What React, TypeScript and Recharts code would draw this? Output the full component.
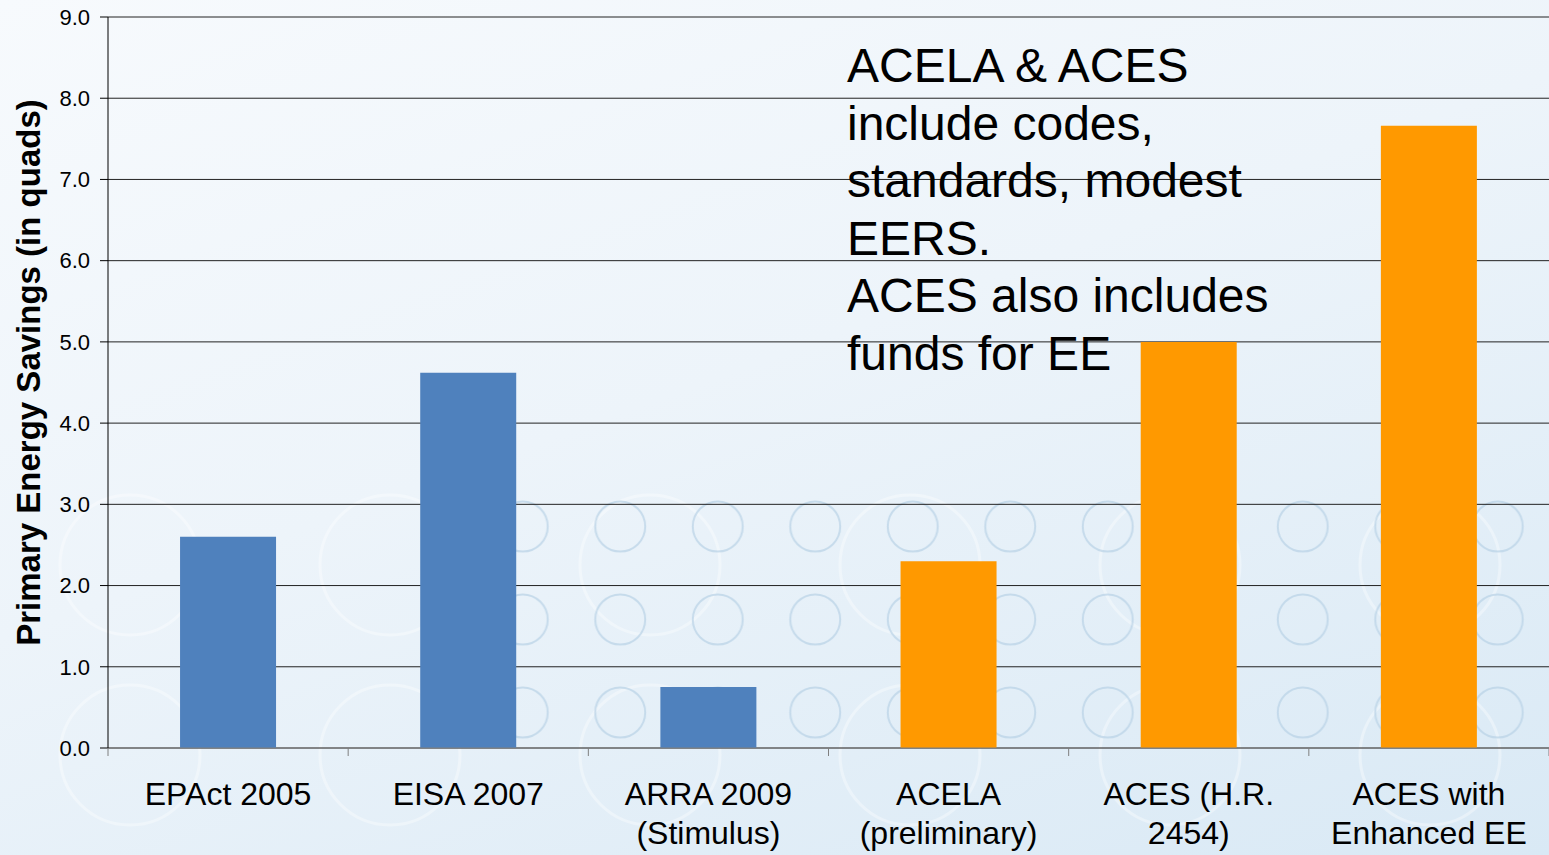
import { Bar, BarChart, CartesianGrid, Cell, Customized, XAxis, YAxis } from "recharts";

// values (quads)
const categories = [
  "EPAct 2005",
  "EISA 2007",
  "ARRA 2009\n(Stimulus)",
  "ACELA\n(preliminary)",
  "ACES (H.R.\n2454)",
  "ACES with\nEnhanced EE",
];
const savings = [2.6, 4.62, 0.75, 2.3, 5.0, 7.66];
const billType = ["enacted", "enacted", "enacted", "proposed", "proposed", "proposed"];
const yTicks = [0, 1, 2, 3, 4, 5, 6, 7, 8, 9];
const noteLines = [
  "ACELA & ACES",
  "include codes,",
  "standards, modest",
  "EERS.",
  "ACES also includes",
  "funds for EE",
];

const data = categories.map((name, i) => ({ name, savings: savings[i], type: billType[i] }));

const COLORS: Record<string, string> = { enacted: "#4F81BD", proposed: "#FF9900" };
const FONT = '"Liberation Sans", Arial, sans-serif';
const W = 1549;
const H = 855;
const Y_AXIS_W = 108;

const CategoryTick = (props: any) => {
  const { x, y, payload, index } = props;
  const half = payload?.offset || (W - Y_AXIS_W) / categories.length / 2;
  const lines = String(payload.value).split("\n");
  return (
    <g>
      <line x1={x - half} y1={y} x2={x - half} y2={y + 8} stroke="#7f7f7f" />
      {index === categories.length - 1 && (
        <line x1={x + half} y1={y} x2={x + half} y2={y + 8} stroke="#7f7f7f" />
      )}
      <text x={x} y={y + 57} textAnchor="middle" fontSize={32} fill="#000" fontFamily={FONT}>
        {lines.map((l, i) => (
          <tspan key={i} x={x} dy={i === 0 ? 0 : 39}>
            {l}
          </tspan>
        ))}
      </text>
    </g>
  );
};

const YLabel = (props: any) => {
  const vb = props.viewBox || { x: 0, y: 17, width: Y_AXIS_W, height: 731 };
  const cx = vb.x + 28;
  const cy = vb.y + vb.height / 2 - 10;
  return (
    <text
      x={cx}
      y={cy}
      transform={`rotate(-90, ${cx}, ${cy})`}
      textAnchor="middle"
      dominantBaseline="central"
      fontSize={33}
      fontWeight="bold"
      fill="#000"
      fontFamily={FONT}
    >
      Primary Energy Savings (in quads)
    </text>
  );
};

const Note = () => (
  <text x={847} y={82} fontSize={48} fill="#000" fontFamily={FONT}>
    {noteLines.map((l, i) => (
      <tspan key={i} x={847} dy={i === 0 ? 0 : 57.6}>
        {l}
      </tspan>
    ))}
  </text>
);

const Backdrop = () => (
  <svg width={W} height={H} style={{ position: "absolute", left: 0, top: 0 }}>
    <defs>
      <pattern id="rings" patternUnits="userSpaceOnUse" x={474} y={480} width={97.5} height={93}>
        <circle cx={48.75} cy={46.5} r={25} fill="none" stroke="#b8d2e6" strokeWidth={2} opacity={0.7} />
      </pattern>
      <pattern id="bigRings" patternUnits="userSpaceOnUse" x={0} y={470} width={260} height={190}>
        <circle cx={130} cy={95} r={70} fill="none" stroke="#ffffff" strokeWidth={3} opacity={0.35} />
      </pattern>
    </defs>
    <rect x={0} y={480} width={W} height={375} fill="url(#bigRings)" />
    <rect x={474} y={480} width={W - 474} height={280} fill="url(#rings)" />
  </svg>
);

export default function App() {
  return (
    <div
      style={{
        position: "relative",
        width: W,
        height: H,
        overflow: "hidden",
        background: "linear-gradient(160deg, #f7fafd 0%, #edf4fa 45%, #d9e9f5 100%)",
      }}
    >
      <style>{"body{margin:0}"}</style>
      <Backdrop />
      <div style={{ position: "absolute", left: 0, top: 0 }}>
        <BarChart
          width={W}
          height={H}
          data={data}
          margin={{ top: 17, right: 0, bottom: 0, left: 0 }}
          barCategoryGap="30%"
        >
          <CartesianGrid vertical={false} stroke="#222" />
          <XAxis
            dataKey="name"
            interval={0}
            height={107}
            tickLine={false}
            tickSize={0}
            tickMargin={0}
            axisLine={{ stroke: "#7f7f7f" }}
            tick={<CategoryTick />}
          />
          <YAxis
            domain={[0, 9]}
            ticks={yTicks}
            width={Y_AXIS_W}
            tickSize={8}
            tickMargin={10}
            tickFormatter={(v: number) => v.toFixed(1)}
            axisLine={{ stroke: "#000" }}
            tickLine={{ stroke: "#000" }}
            tick={{ fontSize: 22, fill: "#000", fontFamily: FONT }}
            label={<YLabel />}
          />
          <Bar dataKey="savings" isAnimationActive={false}>
            {data.map((d, i) => (
              <Cell key={i} fill={COLORS[d.type]} />
            ))}
          </Bar>
          <Customized component={Note} />
        </BarChart>
      </div>
    </div>
  );
}
